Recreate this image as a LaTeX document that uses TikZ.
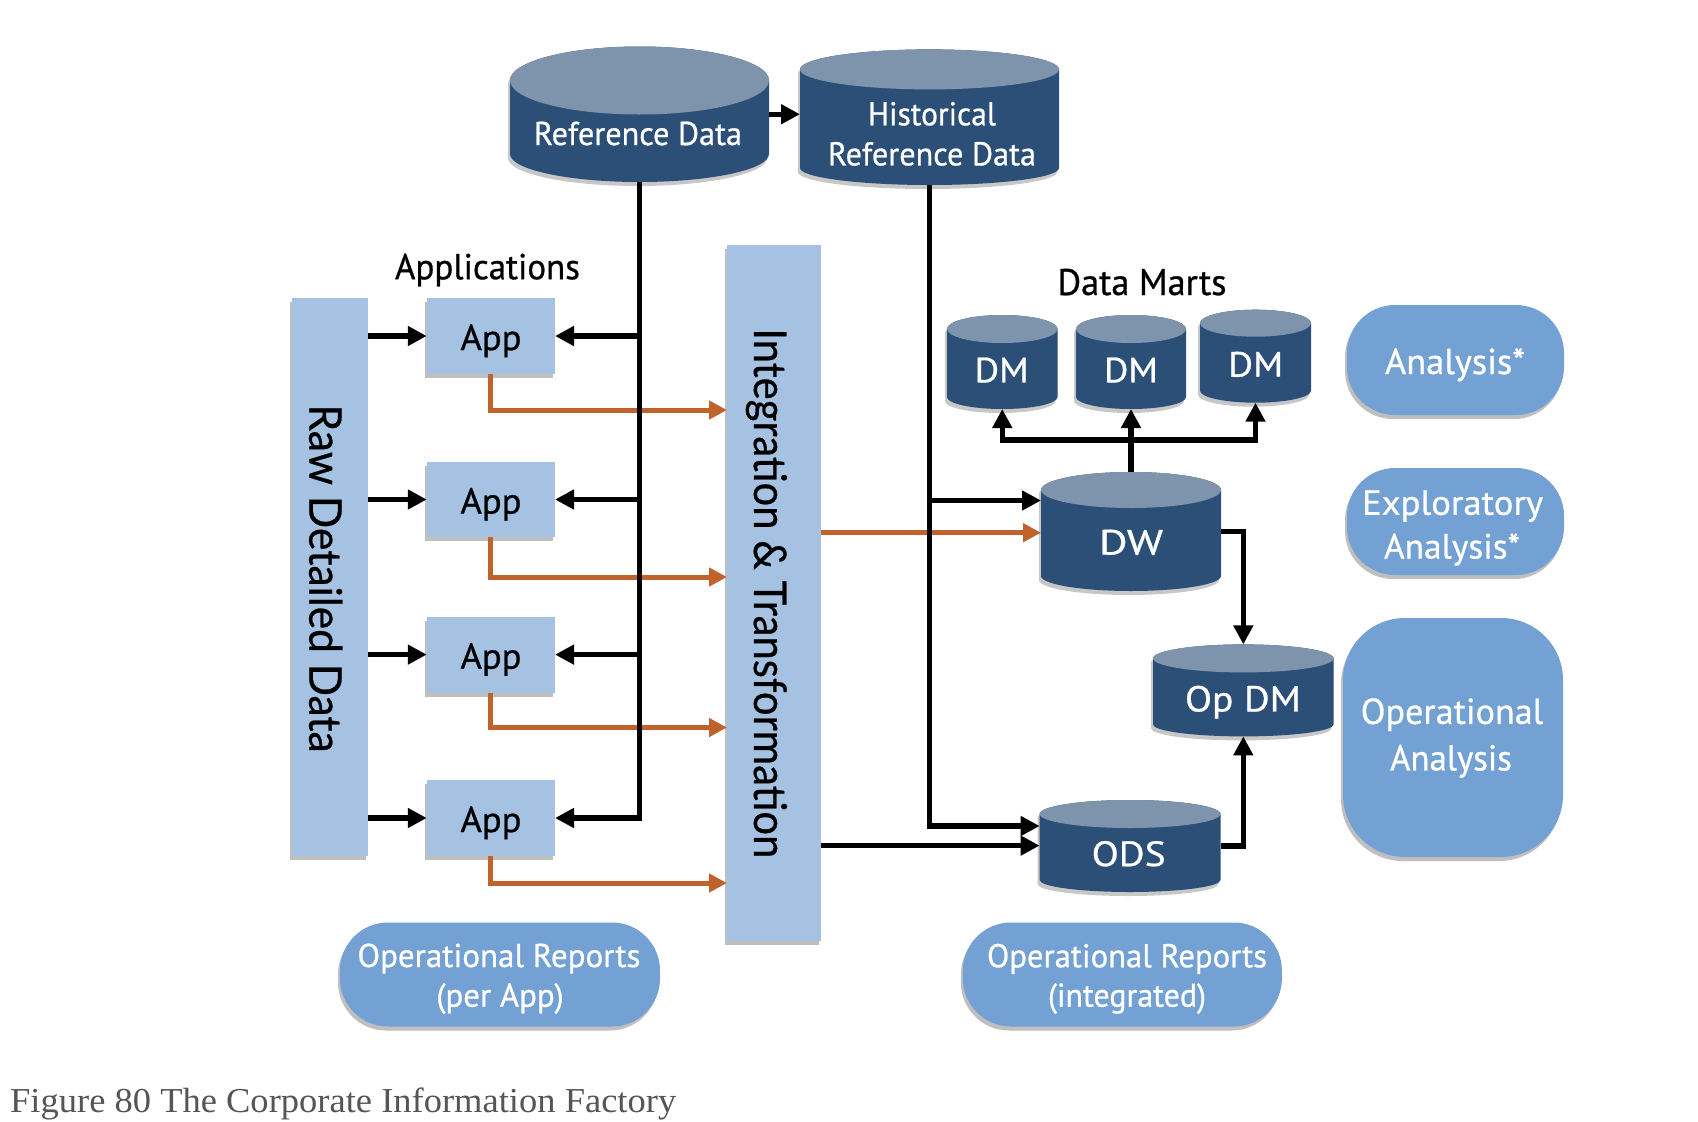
\documentclass[tikz,border=0pt]{standalone}
\usepackage{fontspec}
\usepackage{graphicx}
\setmainfont{PT Sans}[FakeBold=0.7]
\newfontfamily\avfont{Lato}[FakeBold=0.6]
\newfontfamily\capfont{Liberation Serif}
\usetikzlibrary{arrows.meta,shadows}
\definecolor{cylside}{RGB}{44,79,120}
\definecolor{cyltop}{RGB}{126,148,172}
\definecolor{barblue}{RGB}{165,194,226}
\definecolor{pillblue}{RGB}{115,161,211}
\definecolor{orangeline}{RGB}{191,98,43}
\definecolor{captiongray}{RGB}{85,85,85}
\newcommand\fitw[2]{\resizebox{#1pt}{\height}{#2}}
\newcommand\fsz[1]{\fontsize{#1}{#1}\selectfont}
% name, L, T, R, B, ry top, ry bottom
\newcommand\dbcyl[7]{%
  \pgfmathsetmacro\cylCX{(#2+#4)/2}%
  \pgfmathsetmacro\cylRX{(#4-#2)/2}%
  \pgfmathsetmacro\cylYT{#3+#6}%
  \pgfmathsetmacro\cylYB{#5-#7}%
  \fill[black,opacity=.22,transform canvas={shift={(-2pt,-4pt)}}] (#2,\cylYT) -- (#2,\cylYB) arc[start angle=180,end angle=0,x radius=\cylRX,y radius=#7] -- (#4,\cylYT) arc[start angle=0,end angle=-180,x radius=\cylRX,y radius=#6] -- cycle;
  \fill[cylside] (#2,\cylYT) -- (#2,\cylYB) arc[start angle=180,end angle=0,x radius=\cylRX,y radius=#7] -- (#4,\cylYT) arc[start angle=0,end angle=-180,x radius=\cylRX,y radius=#6] -- cycle;
  \fill[cyltop] (\cylCX,\cylYT) ellipse[x radius=\cylRX,y radius=#6];
  \node[inner sep=0pt,outer sep=0pt,minimum width={(#4-#2)*1pt},minimum height={(#5-#3)*1pt},anchor=north west] (#1) at (#2,#3) {};
}
\begin{document}
\begin{tikzpicture}[x=1pt,y=-1pt,
  blk/.style={line width=5.5pt,black},
  blkarrow/.style={blk,-{Triangle[length=19pt,width=19pt]}},
  orarrow/.style={line width=5pt,orangeline,-{Triangle[length=18pt,width=18pt]}},
  softshadow/.style={drop shadow={shadow xshift=-2pt,shadow yshift=-4pt,opacity=.25,fill=black}},
  bar/.style={rectangle,fill=barblue,inner sep=0pt,outer sep=0pt,softshadow},
  pill/.style={rectangle,rounded corners=48pt,fill=pillblue,inner sep=0pt,outer sep=0pt,softshadow},
  wtxt/.style={text=white,inner sep=0pt,anchor=base},
  ktxt/.style={text=black,inner sep=0pt,anchor=base},
]
\useasboundingbox (0,0) rectangle (1698,1122);
\fill[white] (0,0) rectangle (1698,1122);

% cylinders
\dbcyl{ref}{510}{46.5}{769}{182}{34}{28}
\dbcyl{hist}{800}{49.4}{1059}{185}{20}{17}
\dbcyl{dm1}{947}{315}{1057.5}{409}{14}{12}
\dbcyl{dm2}{1076}{315}{1186}{409}{14}{12}
\dbcyl{dm3}{1200}{309.7}{1311}{402.7}{13.5}{12}
\dbcyl{dw}{1041}{472}{1221}{591}{18}{15}
\dbcyl{opdm}{1153}{644.4}{1333.6}{736.4}{14}{12}
\dbcyl{ods}{1039.6}{800}{1220.5}{892}{14}{12}

% bars and app boxes
\node[bar,minimum width=76pt,minimum height=558pt] (raw) at (329.7,577) {};
\node[bar,minimum width=93.6pt,minimum height=695.5pt] (integ) at (773.8,592.75) {};
\node[bar,minimum width=128.3pt,minimum height=76pt] (app1) at (490.9,336) {};
\node[bar,minimum width=128.3pt,minimum height=75pt] (app2) at (490.9,499.5) {};
\node[bar,minimum width=128.3pt,minimum height=76pt] (app3) at (490.9,654.6) {};
\node[bar,minimum width=128.3pt,minimum height=76pt] (app4) at (490.9,818) {};

% pills
\node[pill,minimum width=217pt,minimum height=110pt] (anal) at (1455.5,360) {};
\node[pill,minimum width=217pt,minimum height=107pt] (expl) at (1455.5,521.5) {};
\node[pill,rounded corners=62pt,minimum width=220pt,minimum height=239pt] (opan) at (1453,737.5) {};
\node[pill,minimum width=320pt,minimum height=104pt] (rep1) at (500,974.5) {};
\node[pill,minimum width=319pt,minimum height=104pt] (rep2) at (1122.4,974.5) {};

% orange connectors
\draw[orarrow] (app1.south) |- (integ.west |- 0,410);
\draw[orarrow] (app2.south) |- (integ.west |- 0,577);
\draw[orarrow] (app3.south) |- (integ.west |- 0,727.5);
\draw[orarrow] (app4.south) |- (integ.west |- 0,883);
\draw[orarrow] (integ.east |- 0,532.7) -- (dw.west |- 0,532.7);

% black connectors
\draw[blkarrow] (ref.east) -- (ref.east -| hist.west);
\draw[blkarrow] (ref.south) |- (app4.east);
\draw[blkarrow] (app1.east -| ref.south) -- (app1.east);
\draw[blkarrow] (app2.east -| ref.south) -- (app2.east);
\draw[blkarrow] (app3.east -| ref.south) -- (app3.east);
\draw[blkarrow] (raw.east |- app1.west) -- (app1.west);
\draw[blkarrow] (raw.east |- app2.west) -- (app2.west);
\draw[blkarrow] (raw.east |- app3.west) -- (app3.west);
\draw[blkarrow] (raw.east |- app4.west) -- (app4.west);
\draw[blkarrow] (hist.south) |- (ods.west |- 0,826);
\draw[blkarrow] (hist.south |- 0,500.5) -- (dw.west |- 0,500.5);
\draw[blkarrow] (integ.east |- 0,845.6) -- (ods.west |- 0,845.6);
\draw[blkarrow] (dw.north) -- (dm2.south);
\draw[blkarrow] (dm2.south |- 0,440) -| (dm1.south);
\draw[blkarrow] (dm2.south |- 0,440) -| (dm3.south);
\draw[blkarrow] (dw.east) -| (opdm.north);
\draw[blkarrow] (ods.east) -| (opdm.south);

% texts in cylinders
\node[wtxt,font=\fsz{33}] (tref) at (638,145) {\fitw{208}{Reference Data}};
\node[wtxt,font=\fsz{33}] (thist1) at (932,125.3) {\fitw{128}{Historical}};
\node[wtxt,font=\fsz{33}] (thist2) at (932,165.4) {\fitw{208}{Reference Data}};
\node[wtxt,font=\fsz{35}] (tdm1) at (1001.7,382.3) {\fitw{54}{DM}};
\node[wtxt,font=\fsz{35}] (tdm2) at (1131,382.3) {\fitw{54}{DM}};
\node[wtxt,font=\fsz{35}] (tdm3) at (1255.7,376.6) {\fitw{55}{DM}};
\node[wtxt,font=\fsz{35}] (tdw) at (1131,554.5) {\fitw{64}{DW}};
\node[wtxt,font=\fsz{36}] (topdm) at (1243,711.4) {\fitw{116}{Op DM}};
\node[wtxt,font=\fsz{35}] (tods) at (1128.7,866) {\fitw{74}{ODS}};

% texts in pills
\node[wtxt,font=\fsz{36}] (tanal) at (1455,374) {\fitw{140}{Analysis*}};
\node[wtxt,font=\fsz{35}] (texpl1) at (1452.5,514.8) {\fitw{181}{Exploratory}};
\node[wtxt,font=\fsz{35}] (texpl2) at (1452,558.5) {\fitw{136}{Analysis*}};
\node[wtxt,font=\fsz{36}] (topan1) at (1452,723.9) {\fitw{182.5}{Operational}};
\node[wtxt,font=\fsz{36}] (topan2) at (1451,770.4) {\fitw{121.8}{Analysis}};
\node[wtxt,font=\fsz{33}] (trep1a) at (499,967) {\fitw{283}{Operational Reports}};
\node[wtxt,font=\fsz{33}] (trep1b) at (500,1006.7) {\fitw{127.4}{(per App)}};
\node[wtxt,font=\fsz{33}] (trep2a) at (1127,967.3) {\fitw{280}{Operational Reports}};
\node[wtxt,font=\fsz{33}] (trep2b) at (1127,1006.7) {\fitw{158}{(integrated)}};

% black texts
\node[ktxt,font=\fsz{36}] (tappl) at (487.5,279.2) {\fitw{185}{Applications}};
\node[ktxt,font=\fsz{37}] (tmarts) at (1142,295) {\fitw{169}{Data Marts}};
\node[ktxt,font=\fsz{36}] (tapp1) at (491,350) {\fitw{61}{App}};
\node[ktxt,font=\fsz{36}] (tapp2) at (491,513.5) {\fitw{61}{App}};
\node[ktxt,font=\fsz{36}] (tapp3) at (491,668.6) {\fitw{61}{App}};
\node[ktxt,font=\fsz{36}] (tapp4) at (491,832) {\fitw{61}{App}};
\node[ktxt,rotate=-90,font=\avfont\fsz{45}] (traw) at (309.3,578.5) {\fitw{348}{Raw Detailed Data}};
\node[ktxt,rotate=-90,font=\avfont\fsz{45}] (tinteg) at (754,593.3) {\fitw{530}{Integration \& Transformation}};

% caption
\node[inner sep=0pt,anchor=base west,text=captiongray,font=\capfont\fsz{35}] (caption) at (10,1112) {\fitw{666}{Figure 80 The Corporate Information Factory}};
\end{tikzpicture}
\end{document}
